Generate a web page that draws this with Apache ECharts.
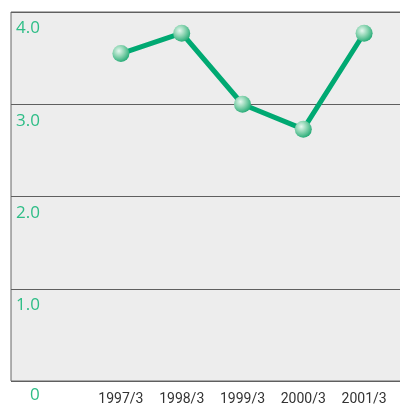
<!DOCTYPE html>
<html><head><meta charset="utf-8">
<script src="https://cdn.jsdelivr.net/npm/echarts@6/dist/echarts.min.js"></script>
<style>html,body{margin:0;padding:0;background:#fff}#c{width:400px;height:406px}</style>
</head><body><div id="c"></div>
<script>
const categories = ['1997/3','1998/3','1999/3','2000/3','2001/3'];
const values = [3.55, 3.77, 3.00, 2.73, 3.77];
const yTicks = ['0','1.0','2.0','3.0','4.0'];

const chart = echarts.init(document.getElementById('c'));
const green = '#00a972';
const labelGreen = '#2dbd86';
const font = '"Liberation Sans Narrow", "Roboto", sans-serif';

chart.setOption({
  animation: false,
  grid: [
    {left: 11, width: 430, top: 12, bottom: 25, outerBoundsMode: 'none', containLabel: false, show: true, backgroundColor: '#ededed', borderColor: '#666', borderWidth: 1},
    {left: 90.5, width: 304, top: 12, bottom: 25, outerBoundsMode: 'none'}
  ],
  xAxis: [
    {gridIndex: 0, type: 'value', show: false, min: 0, max: 1},
    {gridIndex: 1, type: 'category', data: categories, boundaryGap: true,
     axisLine: {show: false}, axisTick: {show: false},
     axisLabel: {color: '#333', fontSize: 14, fontFamily: font, margin: 11}}
  ],
  yAxis: [
    {gridIndex: 0, type: 'value', min: 0, max: 4, interval: 1,
     axisLine: {show: false}, axisTick: {show: false},
     splitLine: {lineStyle: {color: '#5f5f5f', width: 1.2}},
     axisLabel: {inside: true, color: labelGreen, fontSize: 17, fontFamily: 'Open Sans, sans-serif', fontWeight: 'normal',
       formatter: (v) => v === 0 ? '{z|' + yTicks[0] + '}' : yTicks[Math.round(v)],
       verticalAlign: 'top', padding: [8,0,0,0], margin: 5,
       rich: {z: {color: labelGreen, fontSize: 17, fontFamily: 'Open Sans, sans-serif', lineHeight: 12, padding: [0,0,0,14]}}}
    },
    {gridIndex: 1, type: 'value', min: 0, max: 4, interval: 1, show: false}
  ],
  series: [
    {type: 'line', xAxisIndex: 1, yAxisIndex: 1, data: values,
     lineStyle: {color: green, width: 5},
     symbol: 'circle', symbolSize: 17,
     itemStyle: {
       color: new echarts.graphic.RadialGradient(0.38, 0.35, 0.7, [
         {offset: 0, color: '#e6f7ef'},
         {offset: 0.45, color: '#8fd6b4'},
         {offset: 1, color: '#1fa872'}
       ]),
       borderWidth: 0
     }
    }
  ]
});
</script></body></html>
